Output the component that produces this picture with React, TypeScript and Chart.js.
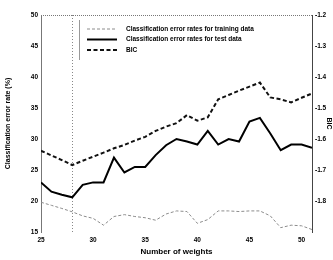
import { useEffect, useRef } from "react";
import { Chart, registerables } from "chart.js";

Chart.register(...registerables);

const weights = [25, 26, 27, 28, 29, 30, 31, 32, 33, 34, 35, 36, 37, 38, 39, 40, 41, 42, 43, 44, 45, 46, 47, 48, 49, 50, 51];
const trainErr = [19.8, 19.3, 18.8, 18.25, 17.6, 17.2, 16.1, 17.5, 17.8, 17.5, 17.3, 16.9, 17.9, 18.4, 18.3, 16.4, 17.0, 18.4, 18.4, 18.3, 18.4, 18.4, 17.6, 15.7, 16.1, 16.0, 15.4];
const testErr = [23.0, 21.5, 21.0, 20.6, 22.6, 23.0, 23.0, 27.0, 24.6, 25.5, 25.5, 27.4, 29.0, 30.0, 29.6, 29.1, 31.3, 29.1, 30.0, 29.6, 32.8, 33.4, 30.9, 28.2, 29.1, 29.1, 28.6];
const bic = [-1.638, -1.653, -1.668, -1.684, -1.67, -1.657, -1.644, -1.63, -1.619, -1.605, -1.593, -1.574, -1.56, -1.549, -1.523, -1.541, -1.53, -1.472, -1.458, -1.444, -1.431, -1.418, -1.466, -1.472, -1.482, -1.467, -1.453];

const xTicks = [25, 30, 35, 40, 45, 50];
const leftTicks = [15, 20, 25, 30, 35, 40, 45, 50];
const rightTicks = [-1.9, -1.8, -1.7, -1.6, -1.5, -1.4, -1.3, -1.2];
const minBicWeight = 28;

const seriesLabels = [
  "Classification error rates for training data",
  "Classification error rates for test data",
  "BIC",
];

const FONT = "'Liberation Sans', Arial, sans-serif";

const overlayPlugin = {
  id: "overlay",
  beforeDatasetsDraw(chart: any) {
    const { ctx, chartArea } = chart;
    const xs = chart.scales.x;
    ctx.save();
    // top frame (dotted)
    ctx.strokeStyle = "#777";
    ctx.lineWidth = 1;
    ctx.setLineDash([1, 1]);
    ctx.beginPath();
    ctx.moveTo(chartArea.left, chartArea.top + 0.5);
    ctx.lineTo(chartArea.right, chartArea.top + 0.5);
    ctx.stroke();
    // vertical marker at minimum BIC
    const px = Math.round(xs.getPixelForValue(minBicWeight)) + 0.5;
    ctx.strokeStyle = "#888";
    ctx.setLineDash([1, 2]);
    ctx.beginPath();
    ctx.moveTo(px, chartArea.top);
    ctx.lineTo(px, chartArea.bottom);
    ctx.stroke();
    ctx.restore();
  },
  afterDraw(chart: any) {
    const { ctx, chartArea } = chart;
    ctx.save();
    const left = chartArea.left + 38;
    const top = chartArea.top + 5;
    // legend box edge
    ctx.strokeStyle = "#999";
    ctx.lineWidth = 1;
    ctx.setLineDash([]);
    ctx.beginPath();
    ctx.moveTo(left + 0.5, top);
    ctx.lineTo(left + 0.5, top + 40);
    ctx.stroke();
    chart.data.datasets.forEach((ds: any, i: number) => {
      const y = top + 9 + i * 10.5;
      ctx.strokeStyle = ds.borderColor;
      ctx.lineWidth = ds.borderWidth;
      ctx.setLineDash(ds.borderDash || []);
      ctx.beginPath();
      ctx.moveTo(left + 8, y);
      ctx.lineTo(left + 38, y);
      ctx.stroke();
      ctx.setLineDash([]);
      ctx.fillStyle = "#000";
      ctx.font = `bold 6.5px ${FONT}`;
      ctx.textBaseline = "middle";
      ctx.textAlign = "left";
      ctx.fillText(ds.label, left + 47, y);
    });
    ctx.restore();
  },
};

export default function App() {
  const ref = useRef<HTMLCanvasElement | null>(null);
  useEffect(() => {
    if (!ref.current) return;
    const tickFont = { family: FONT, size: 6.5, weight: "bold" as const };
    const chart = new Chart(ref.current, {
      type: "line",
      data: {
        labels: weights,
        datasets: [
          {
            label: seriesLabels[0],
            data: weights.map((w, i) => ({ x: w, y: trainErr[i] })),
            borderColor: "#8c8c8c",
            borderWidth: 1,
            borderDash: [3, 2],
            pointRadius: 0,
            yAxisID: "y",
          },
          {
            label: seriesLabels[1],
            data: weights.map((w, i) => ({ x: w, y: testErr[i] })),
            borderColor: "#000",
            borderWidth: 2,
            pointRadius: 0,
            yAxisID: "y",
          },
          {
            label: seriesLabels[2],
            data: weights.map((w, i) => ({ x: w, y: bic[i] })),
            borderColor: "#111",
            borderWidth: 2,
            borderDash: [4, 2.5],
            pointRadius: 0,
            yAxisID: "y1",
          },
        ],
      },
      options: {
        animation: false,
        responsive: false,
        devicePixelRatio: 1,
        layout: { padding: { top: 15, left: 0, right: 0, bottom: 0 } },
        plugins: { legend: { display: false }, tooltip: { enabled: false } },
        scales: {
          x: {
            type: "linear",
            min: 25,
            max: 51,
            grid: { display: false, drawTicks: false },
            border: { display: false },
            afterBuildTicks: (s: any) => {
              s.ticks = xTicks.map((v) => ({ value: v }));
            },
            afterFit: (s: any) => {
              s.height = 28;
            },
            ticks: { font: tickFont, color: "#000", padding: 4, maxRotation: 0 },
            title: {
              display: true,
              text: "Number of weights",
              font: { family: FONT, size: 8, weight: "bold" },
              color: "#000",
              padding: { top: 0, bottom: 3 },
            },
          },
          y: {
            position: "left",
            min: 15,
            max: 50,
            grid: { display: false, drawTicks: false },
            border: { display: true, color: "#777", dash: [1, 1] },
            afterBuildTicks: (s: any) => {
              s.ticks = leftTicks.map((v) => ({ value: v }));
            },
            afterFit: (s: any) => {
              s.width = 41;
            },
            ticks: { font: tickFont, color: "#000", padding: 3 },
            title: {
              display: true,
              text: "Classification error rate (%)",
              font: { family: FONT, size: 7, weight: "bold" },
              color: "#000",
              padding: { top: 4, bottom: 0 },
            },
          },
          y1: {
            position: "right",
            min: -1.9,
            max: -1.2,
            grid: { display: false, drawTicks: false },
            border: { display: true, color: "#444" },
            afterBuildTicks: (s: any) => {
              s.ticks = rightTicks.map((v) => ({ value: v }));
            },
            afterFit: (s: any) => {
              s.width = 21;
            },
            ticks: {
              font: tickFont,
              color: "#000",
              padding: 3,
              callback: (v: any) => (Math.abs(Number(v) + 1.9) < 1e-6 ? "" : Number(v).toFixed(1)),
            },
            title: {
              display: true,
              text: "BIC",
              font: { family: FONT, size: 7, weight: "bold" },
              color: "#000",
              padding: { top: 0, bottom: 0 },
            },
          },
        },
      },
      plugins: [overlayPlugin],
    });
    return () => chart.destroy();
  }, []);
  return (
    <div style={{ position: "absolute", left: 0, top: 0, width: 333, height: 260, background: "#fff" }}>
      <canvas ref={ref} width={333} height={260} style={{ display: "block" }} />
    </div>
  );
}
